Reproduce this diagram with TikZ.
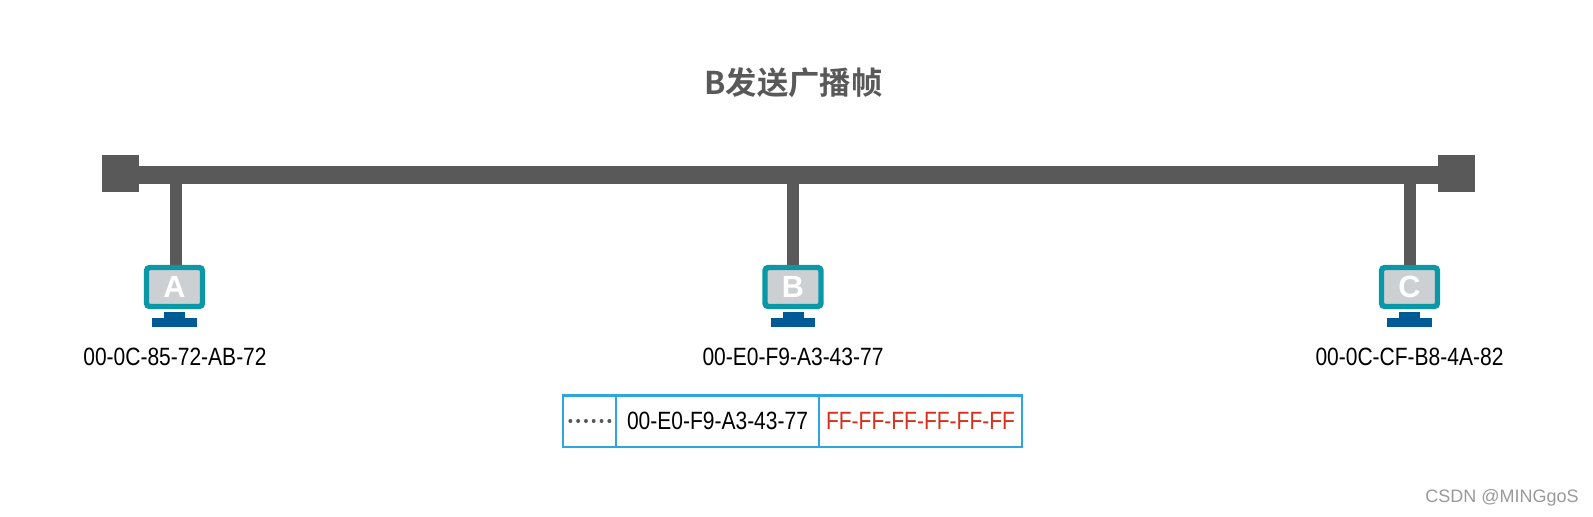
\documentclass[tikz,border=0pt]{standalone}
\usepackage{fontspec}
\setmainfont{Liberation Sans}
\newfontfamily\narrowfont[FakeStretch=0.84]{Liberation Sans}
\newfontfamily\cjkfont{Noto Sans CJK SC}[BoldFont={Noto Sans CJK SC Bold}]
\usepackage{xcolor}
\definecolor{busgray}{RGB}{89,89,89}
\definecolor{screenteal}{RGB}{10,152,166}
\definecolor{screengray}{RGB}{205,208,211}
\definecolor{standblue}{RGB}{0,90,150}
\definecolor{cellblue}{RGB}{46,165,220}
\definecolor{bcastred}{RGB}{216,48,26}

\begin{document}
\begin{tikzpicture}[
  x=0.75pt,y=-0.75pt,
  endblock/.style={rectangle,fill=busgray,inner sep=0pt,minimum size=27.75pt},
  busline/.style={busgray,line width=13pt},
  tapline/.style={busgray,line width=9.2pt},
  monitor/.style={rectangle,draw=screenteal,fill=screengray,line width=4.1pt,rounded corners=2.5pt,text=white,font=\fontsize{23}{24}\selectfont\bfseries,minimum width=42pt,minimum height=29.25pt,inner sep=0pt},
  neck/.style={rectangle,fill=standblue,inner sep=0pt,minimum width=15.75pt,minimum height=5pt},
  base/.style={rectangle,fill=standblue,inner sep=0pt,minimum width=33.5pt,minimum height=6.75pt},
  mac/.style={font=\narrowfont\fontsize{18.75}{20}\selectfont,inner sep=0pt},
  cell/.style={rectangle,draw=cellblue,line width=1.9pt,inner sep=0pt,minimum height=38.5pt},
  dots/.style={busgray,line width=2.4pt,line cap=round,dash pattern=on 0.5pt off 5.35pt}
]

\useasboundingbox (0,0) rectangle (1593,517);

\node[font=\cjkfont\fontsize{23.5}{26}\selectfont\bfseries,text=busgray] (title) at (793.5,83) {B发送广播帧};

\node[endblock] (endL) at (120.5,173.5) {};
\node[endblock] (endR) at (1456.5,173.5) {};

\node[monitor] (monA) at (174.5,287) {A};
\node[neck] (neckA) at (174.5,315) {};
\node[base] (baseA) at (174.5,322.5) {};
\node[mac] (macA) at (175,357) {00-0C-85-72-AB-72};

\node[monitor] (monB) at (793,287) {B};
\node[neck] (neckB) at (793,315) {};
\node[base] (baseB) at (793,322.5) {};
\node[mac] (macB) at (793,357) {00-E0-F9-A3-43-77};

\node[monitor] (monC) at (1409.5,287) {C};
\node[neck] (neckC) at (1409.5,315) {};
\node[base] (baseC) at (1409.5,322.5) {};
\node[mac] (macC) at (1409.5,357) {00-0C-CF-B8-4A-82};

\coordinate (tapA) at (176,175);
\coordinate (tapB) at (793,175);
\coordinate (tapC) at (1410,175);
\draw[busline] (endL.east |- tapA) -- (endR.west |- tapC);
\draw[tapline] (tapA) -- (tapA |- monA.north);
\draw[tapline] (tapB) -- (tapB |- monB.north);
\draw[tapline] (tapC) -- (tapC |- monC.north);

\node[cell,minimum width=39.75pt] (cellDots) at (589.5,421.2) {};
\node[cell,minimum width=152.25pt,font=\narrowfont\fontsize{18.75}{20}\selectfont] (cellSrc) at (717.5,421.2) {00-E0-F9-A3-43-77};
\node[cell,minimum width=152.25pt,text=bcastred,font=\narrowfont\fontsize{18.75}{20}\selectfont] (cellDst) at (920.5,421.2) {FF-FF-FF-FF-FF-FF};

\coordinate (dotsL) at (570,421);
\coordinate (dotsR) at (610,421);
\draw[dots] (dotsL) -- (dotsR);

\node[font=\fontsize{13.5}{15}\selectfont,text=black!40,inner sep=0pt] (mark) at (1502,498) {CSDN @MINGgoS};

\end{tikzpicture}
\end{document}
